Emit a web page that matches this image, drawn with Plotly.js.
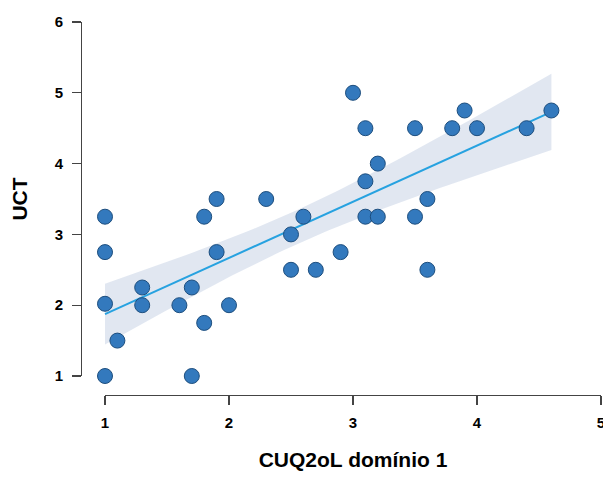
<!DOCTYPE html>
<html><head><meta charset="utf-8">
<script src="https://cdn.plot.ly/plotly-3.0.1.min.js"></script>
<style>html,body{margin:0;padding:0;background:#fff}</style>
</head><body><div id="chart" style="width:603px;height:477px"></div>
<script>
const xVals = [1,1,1,1,1.1,1.3,1.3,1.6,1.7,1.7,1.8,1.8,1.9,1.9,2.0,2.3,2.5,2.5,2.6,2.7,2.9,3.0,3.1,3.1,3.1,3.2,3.2,3.5,3.5,3.6,3.6,3.8,3.9,4.0,4.4,4.6];
const yVals = [3.25,2.75,2.02,1.0,1.5,2.25,2.0,2.0,2.25,1.0,3.25,1.75,3.5,2.75,2.0,3.5,3.0,2.5,3.25,2.5,2.75,5.0,4.5,3.75,3.25,4.0,3.25,4.5,3.25,3.5,2.5,4.5,4.75,4.5,4.5,4.75];
const xTicks = [1,2,3,4,5];
const yTicks = [1,2,3,4,5,6];
const xTitle = 'CUQ2oL domínio 1';
const yTitle = 'UCT';

// linear regression with 95% CI of the mean
const n = xVals.length;
const mx = xVals.reduce((a,b)=>a+b,0)/n, my = yVals.reduce((a,b)=>a+b,0)/n;
let sxx=0, sxy=0;
for (let i=0;i<n;i++){ sxx+=(xVals[i]-mx)**2; sxy+=(xVals[i]-mx)*(yVals[i]-my); }
const b1 = sxy/sxx, b0 = my-b1*mx;
let sse=0; for (let i=0;i<n;i++){ sse+=(yVals[i]-b0-b1*xVals[i])**2; }
const s = Math.sqrt(sse/(n-2));
const tcrit = 2.032;
const xmin = Math.min(...xVals), xmax = Math.max(...xVals);
const gx=[], gy=[], up=[], lo=[];
for (let k=0;k<=60;k++){
  const x = xmin+(xmax-xmin)*k/60; const y=b0+b1*x;
  const se = s*Math.sqrt(1/n+(x-mx)**2/sxx);
  gx.push(x); gy.push(y); up.push(y+tcrit*se); lo.push(y-tcrit*se);
}
const bandX = gx.concat(gx.slice().reverse());
const bandY = up.concat(lo.slice().reverse());

const font = {family:'Liberation Sans, Arial, sans-serif', color:'#000'};
const traces = [
  {x:[null], y:[null], xaxis:'x2', yaxis:'y2', type:'scatter', mode:'markers', showlegend:false, hoverinfo:'skip'},
  {x:bandX, y:bandY, type:'scatter', mode:'lines', fill:'toself', fillcolor:'rgba(205,215,232,0.6)', line:{width:0}, hoverinfo:'skip', showlegend:false},
  {x:gx, y:gy, type:'scatter', mode:'lines', line:{color:'#27a2e0', width:2}, showlegend:false},
  {x:xVals, y:yVals, type:'scatter', mode:'markers', marker:{size:15, color:'#3379bd', line:{color:'#1d4e7e', width:1}}, showlegend:false, cliponaxis:false}
];
const L=81, R=601, T=22, B=395;
const layout = {
  width:603, height:477,
  margin:{l:L, r:603-R, t:T, b:477-B, pad:0},
  paper_bgcolor:'#fff', plot_bgcolor:'rgba(0,0,0,0)',
  showlegend:false,
  xaxis:{range:[1-24/124, 5], showgrid:false, zeroline:false, showline:false, showticklabels:false, ticks:''},
  yaxis:{range:[1-19/70.8, 6], showgrid:false, zeroline:false, showline:false, showticklabels:false, ticks:''},
  xaxis2:{domain:[24/520,1], range:[1,5], anchor:'free', position:0, tickvals:xTicks, ticks:'outside', ticklen:9, tickwidth:1.2, tickcolor:'#444',
    showline:true, linecolor:'#444', linewidth:1.2, showgrid:false, zeroline:false, fixedrange:true, ticklabeloverflow:'allow',
    tickfont:Object.assign({size:15, weight:'bold'},font), ticklabelstandoff:5,
    title:{text:xTitle, font:Object.assign({size:21, weight:'bold'},font), standoff:22}},
  yaxis2:{domain:[19/373,1], range:[1,6], anchor:'free', position:0, tickvals:yTicks, ticks:'outside', ticklen:9, tickwidth:1.2, tickcolor:'#444',
    showline:true, linecolor:'#444', linewidth:1.2, showgrid:false, zeroline:false, fixedrange:true, ticklabeloverflow:'allow',
    tickfont:Object.assign({size:15, weight:'bold'},font), ticklabelstandoff:6,
    title:{text:yTitle, font:Object.assign({size:21, weight:'bold'},font), standoff:20}}
};
Plotly.newPlot('chart', traces, layout, {displayModeBar:false, staticPlot:true});
</script></body></html>
